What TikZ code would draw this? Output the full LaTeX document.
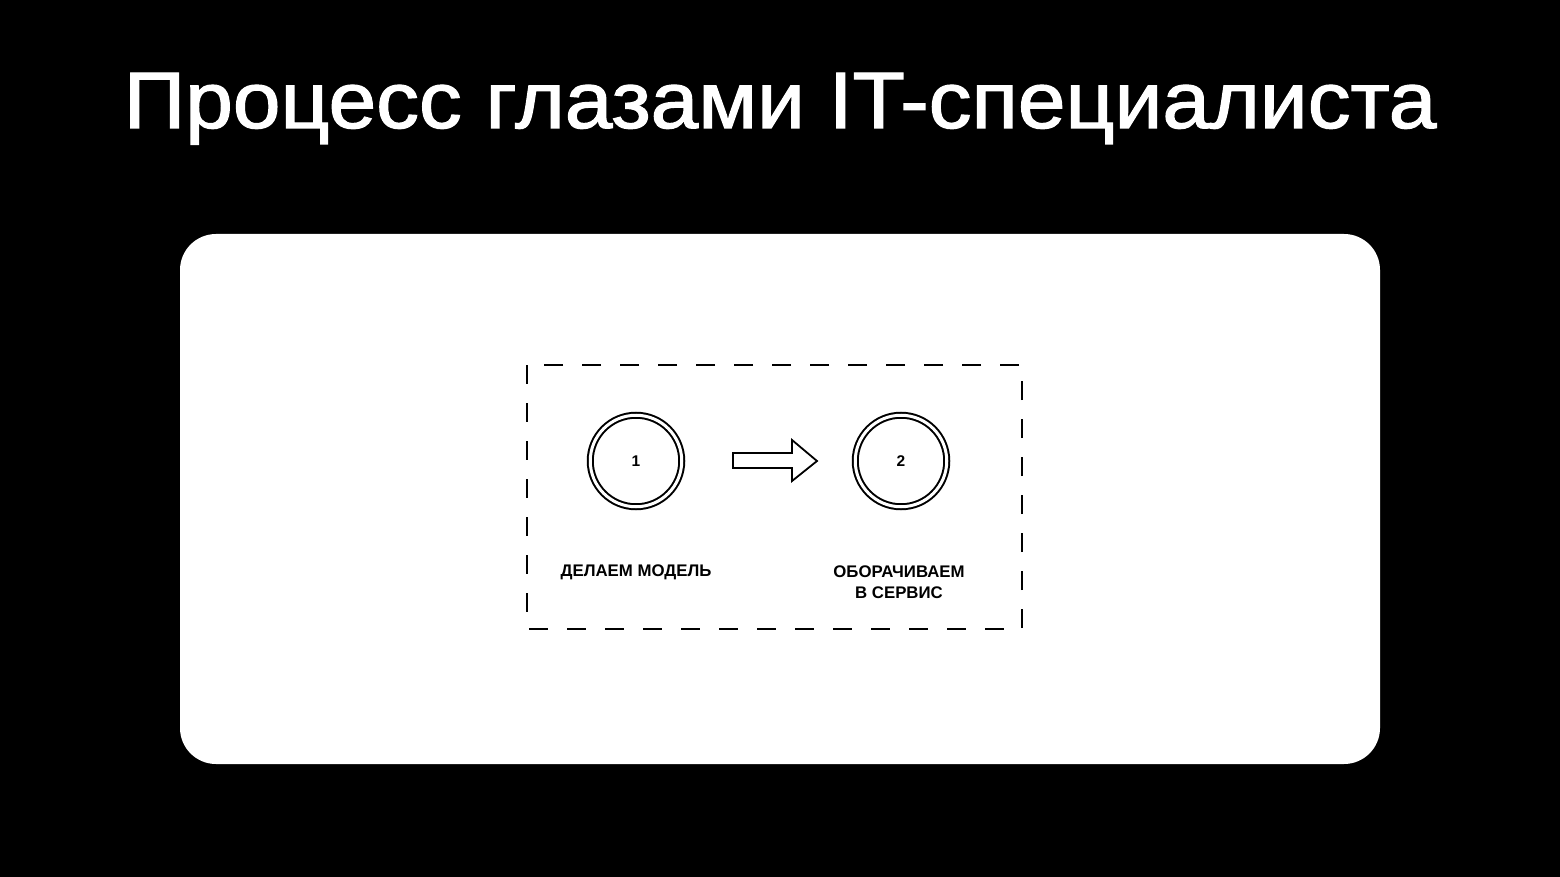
\documentclass[tikz,border=0pt]{standalone}
\usepackage{fontspec}
\setmainfont{Liberation Sans}
\newfontfamily\titlefont[FakeBold=1.5]{Liberation Sans}
\begin{document}
\begin{tikzpicture}[x=1pt,y=-1pt,
  ring/.style={circle,draw=black,line width=2pt,minimum size=91.5pt,inner sep=0pt,
    double=white,double distance=3pt},
  lbl/.style={font=\bfseries\fontsize{16.8}{21}\selectfont,align=center,text=black},
  num/.style={font=\bfseries\fontsize{15.5}{17}\selectfont,text=black}]
\fill[black] (0,0) rectangle (1560,877);
\useasboundingbox (0,0) rectangle (1560,877);
\node[anchor=base,text=white,font=\titlefont\fontsize{80}{90}\selectfont,xscale=1.07] (title) at (780,128) {Процесс глазами IT-специалиста};
\fill[white,rounded corners=36pt] (180,234) rectangle (1380,764);
\draw[black,line width=2pt,dash pattern=on 19pt off 19pt] (527,365) coordinate (bl) rectangle (1022,629) coordinate (br);
\node[ring] (c1) at (636,461) {};
\node[num] at (c1) {1};
\node[ring] (c2) at (901,461) {};
\node[num] at (c2) {2};
\draw[black,line width=1.8pt,line join=miter,fill=white]
  (733,453) -- (792,453) -- (792,440) -- (817,461) -- (792,481) -- (792,468) -- (733,468) -- cycle;
\node[lbl,anchor=base] (l1) at (636,576) {ДЕЛАЕМ МОДЕЛЬ};
\node[lbl,anchor=base] (l2) at (899,598) {ОБОРАЧИВАЕМ\\В СЕРВИС};
\end{tikzpicture}
\end{document}
